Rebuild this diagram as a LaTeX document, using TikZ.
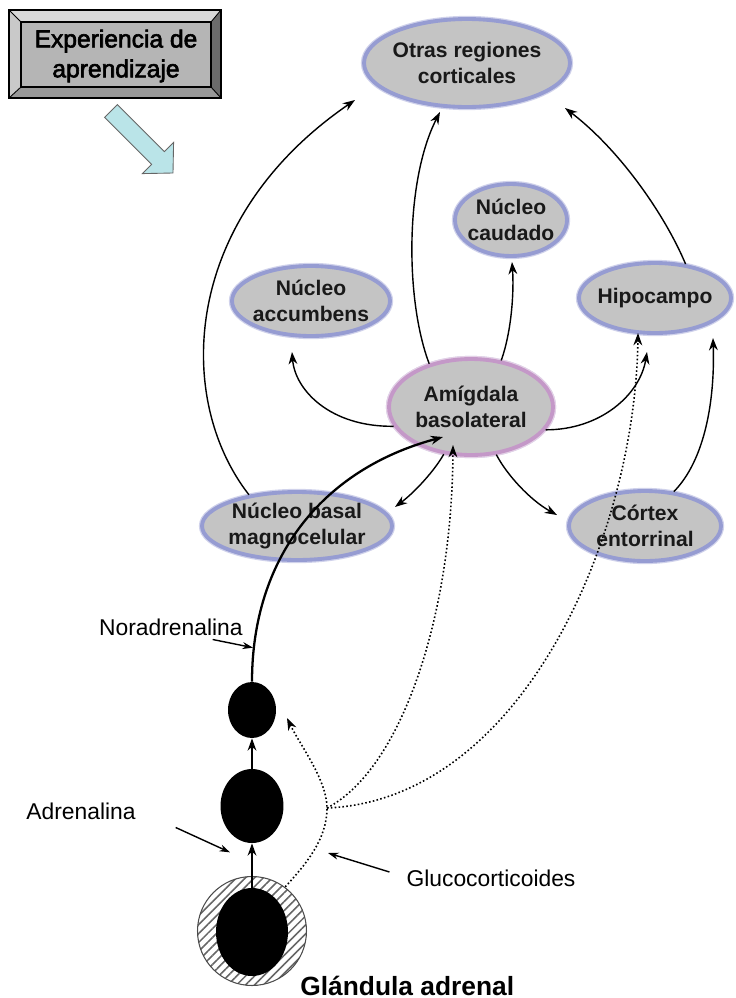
\documentclass[tikz,border=0pt]{standalone}
\usepackage{fontspec}
\setmainfont{Liberation Sans}
\newfontfamily\boxfont[FakeBold=2.5]{Liberation Sans}
\usepackage{tikz}
\usetikzlibrary{arrows.meta, shapes.geometric, patterns.meta, calc}
\definecolor{ringblue}{RGB}{150,156,210}
\definecolor{ringpink}{RGB}{196,152,200}
\definecolor{cueblue}{RGB}{186,228,232}
\tikzset{
  brainreg/.style={ellipse, fill=black!23, draw=ringblue, line width=2.2pt, preaction={draw=ringblue!45, line width=3.6pt}, inner xsep=-4pt, inner ysep=0pt, align=center, text=black!90, font=\fontsize{12}{14.4}\selectfont\bfseries},
  amigreg/.style={brainreg, draw=ringpink, preaction={draw=ringpink!45, line width=3.6pt}},
  axon/.style={line width=0.8pt, -{Stealth[length=7pt,width=5pt]}},
  noraxon/.style={axon, line width=1.3pt},
  hormone/.style={line width=0.9pt, dash pattern=on 0.9pt off 1.3pt, -{Stealth[length=7pt,width=5pt]}},
  neuron/.style={ellipse, fill=black, inner sep=0pt},
  pointer/.style={line width=0.8pt, -{Stealth[length=6pt,width=4pt]}},
  plain/.style={inner sep=1pt, font=\fontsize{13}{15}\selectfont},
  boxtext/.style={inner sep=0pt, align=center, font=\boxfont\fontsize{14}{17}\selectfont},
}

\begin{document}
\begin{tikzpicture}[x=0.02cm, y=-0.02cm]
\useasboundingbox (0,0) rectangle (735,998);
% bevelled box
\fill[black!15] (9,10) -- (221,10) -- (211,22) -- (21,22) -- cycle;
\fill[black!21] (9,10) -- (21,22) -- (21,87) -- (9,98) -- cycle;
\fill[black!58] (221,10) -- (221,98) -- (211,87) -- (211,22) -- cycle;
\fill[black!40] (9,98) -- (21,87) -- (211,87) -- (221,98) -- cycle;
\fill[black!29] (21,22) rectangle (211,87);
\draw[line width=0.5pt] (9,10) -- (21,22) (221,10) -- (211,22) (9,98) -- (21,87) (221,98) -- (211,87);
\draw[line width=0.6pt] (9,10) rectangle (221,98);
\draw[line width=0.6pt] (21,22) rectangle (211,87);
\node[boxtext] (expbox) at (116,56) {Experiencia de\\aprendizaje};
% cue arrow
\draw[fill=cueblue, draw=black!60, line width=0.5pt] (117.4,104.6) -- (164.4,151.6) -- (173.6,142.4) -- (173,173) -- (142.4,173.6) -- (151.6,164.4) -- (104.6,117.4) -- cycle;

% regions
\node[brainreg, minimum width=4.12cm, minimum height=1.76cm] (otras) at (467,63) {Otras regiones\\corticales};
\node[brainreg, minimum width=2.24cm, minimum height=1.44cm] (caudado) at (511,220) {Núcleo\\caudado};
\node[brainreg, minimum width=3.16cm, minimum height=1.40cm] (accu) at (311,301) {Núcleo\\accumbens};
\node[brainreg, minimum width=3.04cm, minimum height=1.40cm] (hipo) at (655,298) {Hipocampo};
\node[amigreg, minimum width=3.28cm, minimum height=1.92cm] (amig) at (471,407) {Amígdala\\basolateral};
\node[brainreg, minimum width=3.80cm, minimum height=1.36cm] (basal) at (297,526) {Núcleo basal\\magnocelular};
\node[brainreg, minimum width=3.04cm, minimum height=1.40cm] (cortex) at (645,526) {Córtex\\entorrinal};

% cells and gland
\node[neuron, minimum width=0.96cm, minimum height=1.12cm] (nor) at (252,710) {};
\node[neuron, minimum width=1.26cm, minimum height=1.48cm] (adr) at (252,806) {};
\node[circle, minimum size=2.18cm, inner sep=0pt, draw=black!70, line width=0.6pt, pattern={Lines[angle=45,distance=3.6pt,line width=0.9pt]}, pattern color=black!60] (gland) at (252,931) {};
\node[neuron, minimum width=1.44cm, minimum height=1.76cm] (glandcore) at (252,932) {};
\coordinate (junc) at (327,808);

% projections
\draw[axon] (basal.147) .. controls (175,400) and (180,220) .. ($(otras)+(-112,37)$);
\draw[axon] (amig.134) .. controls (405,300) and (405,180) .. ($(otras)+(-27,49)$);
\draw[axon] (amig.57) .. controls (512,330) and (514,290) .. ($(caudado)+(1,42)$);
\draw[axon] (amig.194) .. controls (330,427) and (295,390) .. ($(accu)+(-19,51)$);
\draw[axon] (amig.343) .. controls (600,430) and (640,395) .. ($(hipo)+(-8,54)$);
\draw[axon] (cortex.50) .. controls (705,460) and (715,400) .. ($(hipo)+(58,40)$);
\draw[axon] (hipo.48) .. controls (665,215) and (620,150) .. ($(otras)+(98,45)$);
\draw[axon] (amig.240) .. controls (435,470) and (415,492) .. ($(basal)+(98,-19)$);
\draw[axon] (amig.298) .. controls (507,475) and (530,500) .. ($(cortex)+(-88,-11)$);
\draw[noraxon] (nor.north) .. controls (252,560) and (320,470) .. ($(amig)+(-28,30)$);
\draw[axon] (adr.north) -- (nor.south);
\draw[axon] (glandcore.north) -- (adr.south);

% hormones
\draw[hormone] (gland.53) .. controls (305,865) and (327,840) .. (junc) .. controls (327,780) and (300,745) .. ($(nor)+(35,8)$);
\draw[hormone] (junc) .. controls (400,770) and (452,620) .. ($(amig)+(-18,38)$);
\draw[hormone] (junc) .. controls (520,800) and (635,540) .. ($(hipo)+(-17,35)$);

% labels
\node[plain, anchor=west] (noratxt) at (97,627) {Noradrenalina};
\draw[pointer] ($(noratxt.south east)+(-32,2)$) -- ($(nor.north)+(1,-34)$);
\node[plain] (adrtxt) at (81,811) {Adrenalina};
\draw[pointer] ($(adrtxt.south east)+(38,6)$) -- ($(adr.south)+(-22,9)$);
\node[plain] (glucotxt) at (491,878) {Glucocorticoides};
\draw[pointer] ($(glucotxt.west)+(-15,-6)$) -- ($(junc)+(1,45)$);
\node[anchor=base west, inner sep=0pt, font=\fontsize{15}{18}\selectfont\bfseries] (glandtxt) at (300,995) {Glándula adrenal};
\end{tikzpicture}
\end{document}
